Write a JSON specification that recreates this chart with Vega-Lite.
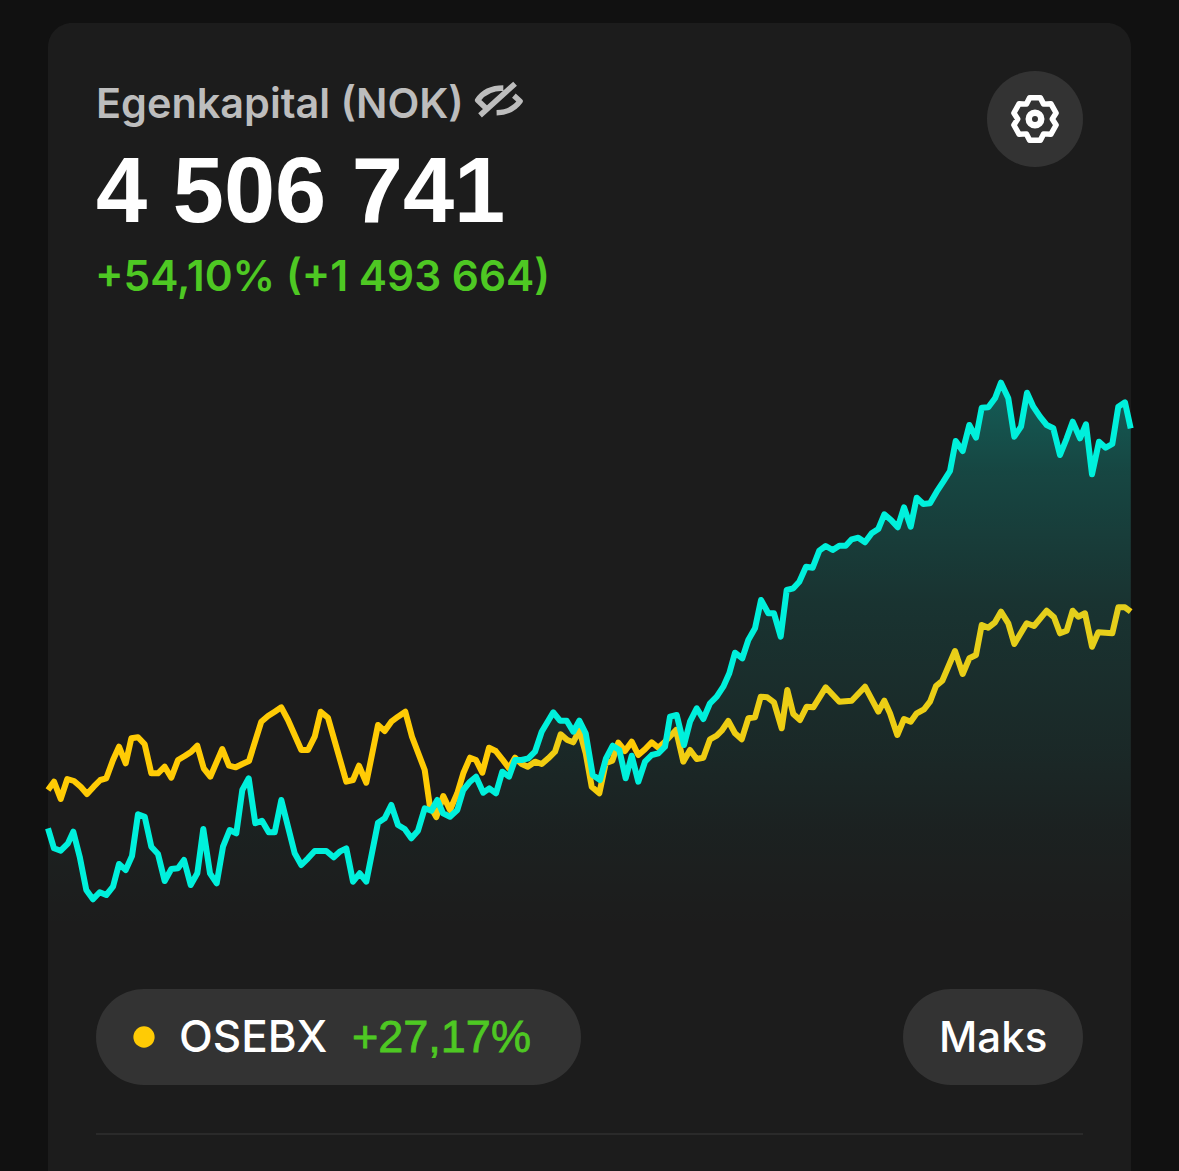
{
  "$schema": "https://vega.github.io/schema/vega-lite/v6.json",
  "description": "Egenkapital (NOK) against OSEBX, dark card layout",
  "background": "#111111",
  "width": 1179,
  "height": 1171,
  "padding": 0,
  "autosize": {"type": "fit", "contains": "padding"},
  "config": {"view": {"stroke": null}},
  "datasets": {
    "egenkapital": [
      {"x":48,"y":828.3},{"x":54,"y":848.3},{"x":60.7,"y":850.7},{"x":68,"y":843.3},{"x":73.3,"y":831.7},{"x":79.7,"y":856.7},{"x":86.3,"y":890},{"x":93,"y":899.3},{"x":99.7,"y":892.3},{"x":106.3,"y":895},{"x":113,"y":886.7},{"x":119,"y":864},{"x":125.7,"y":870},{"x":132,"y":856},{"x":138,"y":814.3},{"x":144.7,"y":816.7},{"x":151.3,"y":846.7},{"x":158,"y":854},{"x":164.7,"y":881},{"x":171.3,"y":869},{"x":178,"y":868.3},{"x":184,"y":860},{"x":190.7,"y":885},{"x":197.3,"y":873.3},{"x":203.3,"y":829},{"x":210,"y":873.3},{"x":216.7,"y":883.3},{"x":223,"y":846.7},{"x":229.7,"y":830},{"x":236.3,"y":833.3},{"x":242.3,"y":790},{"x":248.7,"y":778.3},{"x":255.3,"y":823.3},{"x":262,"y":820.7},{"x":268.7,"y":832.3},{"x":274.7,"y":832.3},{"x":281.3,"y":800},{"x":288,"y":826.7},{"x":294.7,"y":853.3},{"x":301.3,"y":865},{"x":308,"y":858.3},{"x":314.7,"y":851},{"x":326.3,"y":851},{"x":333.7,"y":857.3},{"x":339.7,"y":851.7},{"x":346.3,"y":848.3},{"x":353,"y":881.7},{"x":359.7,"y":873.3},{"x":366.3,"y":881.7},{"x":378,"y":822.7},{"x":384.7,"y":818.3},{"x":391.3,"y":805},{"x":398,"y":825},{"x":404.7,"y":829},{"x":411.3,"y":838.3},{"x":418,"y":830.7},{"x":424.7,"y":808.3},{"x":431.3,"y":810.7},{"x":437.3,"y":800},{"x":443,"y":813.3},
      {"x":450,"y":816.7},{"x":457.3,"y":810},{"x":463.3,"y":790},{"x":470,"y":781.7},{"x":476,"y":776.7},{"x":483.3,"y":792.7},{"x":489.3,"y":788.3},{"x":496,"y":793.3},{"x":502.3,"y":771.7},{"x":509,"y":776.7},{"x":515,"y":760},{"x":521.7,"y":760},{"x":528.3,"y":758.3},{"x":535,"y":751.7},{"x":541.7,"y":731.7},{"x":553.3,"y":712.3},{"x":560,"y":720.7},{"x":566.7,"y":720.7},{"x":573.3,"y":731.7},{"x":579.3,"y":720.7},{"x":585.7,"y":733.3},{"x":592.7,"y":775},{"x":600,"y":780},{"x":606,"y":758.3},{"x":612.7,"y":745.7},{"x":619.3,"y":750},{"x":625.7,"y":778.3},{"x":631.7,"y":755.7},{"x":638.3,"y":781.7},{"x":645,"y":761.7},{"x":651.7,"y":755},{"x":658.3,"y":753.3},{"x":665,"y":746.7},{"x":670,"y":716.7},{"x":676.7,"y":715},{"x":684,"y":745},{"x":690,"y":721.7},{"x":696.7,"y":708.3},{"x":703.3,"y":719},{"x":710,"y":703.3},{"x":716.7,"y":696.7},{"x":723.3,"y":686.7},{"x":729.3,"y":673.3},{"x":735,"y":652.7},{"x":742.3,"y":658.3},{"x":748.3,"y":640},{"x":755,"y":628.3},{"x":761,"y":600},{"x":768.3,"y":613.3},{"x":774,"y":613.3},{"x":780.7,"y":636.7},
      {"x":786.7,"y":590},{"x":793.3,"y":588.3},{"x":799.3,"y":581.7},{"x":806,"y":566.7},{"x":812.7,"y":567.7},{"x":819.3,"y":550.7},{"x":825.7,"y":546},{"x":832.7,"y":550},{"x":839.3,"y":545.7},{"x":845.7,"y":545.7},{"x":851.7,"y":539.3},{"x":858.3,"y":537.7},{"x":865,"y":542.3},{"x":871.7,"y":533.3},{"x":878.3,"y":529},{"x":884.3,"y":514.3},{"x":891,"y":520},{"x":897.7,"y":527.3},{"x":904,"y":507.3},{"x":910.7,"y":526.7},{"x":916.7,"y":497.7},{"x":923.3,"y":504},{"x":930,"y":503.3},{"x":936.7,"y":491.7},{"x":943.3,"y":481.7},{"x":950,"y":471},{"x":955.7,"y":441},{"x":962.7,"y":451},{"x":969.3,"y":425},{"x":976,"y":437.7},{"x":981.7,"y":407.7},{"x":988.3,"y":407.3},{"x":995,"y":398.3},{"x":1001,"y":382.7},{"x":1008.3,"y":398.3},{"x":1014.3,"y":436.7},{"x":1021,"y":426.7},{"x":1027,"y":392.7},{"x":1033.3,"y":406.7},{"x":1040,"y":416.7},{"x":1046.7,"y":425},{"x":1053.3,"y":428.3},{"x":1060,"y":455},{"x":1066.7,"y":438.3},{"x":1072.7,"y":421.7},{"x":1080,"y":438.3},{"x":1086,"y":424.3},{"x":1092,"y":474.3},{"x":1099,"y":441.7},{"x":1105.7,"y":447.7},{"x":1112.3,"y":444},{"x":1118.3,"y":406.7},{"x":1125,"y":402.3},{"x":1130.7,"y":428.3}
    ],
    "osebx": [
      {"x":48,"y":790},{"x":54,"y":781.7},{"x":60.7,"y":799},{"x":67.3,"y":779},{"x":74,"y":781},{"x":80.7,"y":786.7},{"x":87,"y":794},{"x":93.7,"y":786.7},{"x":100.3,"y":780},{"x":106.3,"y":778.3},{"x":113,"y":760},{"x":119,"y":746.7},{"x":125.7,"y":763.3},{"x":131.3,"y":738.3},{"x":138,"y":737.3},{"x":144.7,"y":744.3},{"x":151.3,"y":773.3},{"x":158,"y":773.3},{"x":164.7,"y":766.7},{"x":171.3,"y":777.7},{"x":178,"y":760},{"x":184.7,"y":756},{"x":191.3,"y":751.7},{"x":197.3,"y":745.7},{"x":203.7,"y":768.3},{"x":210.3,"y":776.7},{"x":222.3,"y":749},{"x":229,"y":765.7},{"x":235.7,"y":767.3},{"x":242.3,"y":764},{"x":249,"y":761},{"x":261.3,"y":721.7},{"x":268,"y":716},{"x":274.7,"y":711.7},{"x":281.3,"y":707.3},{"x":288,"y":720},{"x":301.3,"y":750},{"x":308,"y":750},{"x":314.7,"y":736.7},{"x":320.7,"y":711.7},{"x":328,"y":717.7},{"x":346.3,"y":781.7},{"x":353,"y":780},{"x":359,"y":765.7},{"x":366.3,"y":782.7},{"x":378,"y":725},{"x":384.7,"y":731},{"x":391.3,"y":721.7},{"x":398,"y":716.7},{"x":405.3,"y":711.7},{"x":412,"y":736.7},{"x":424.7,"y":770},{"x":429.7,"y":805},{"x":436.3,"y":817},{"x":443.3,"y":796},{"x":450,"y":810},
      {"x":457.3,"y":793.3},{"x":463.3,"y":773.3},{"x":470,"y":757.7},{"x":476,"y":760},{"x":482.3,"y":772.7},{"x":489,"y":747.7},{"x":495.7,"y":751},{"x":502.3,"y":759.3},{"x":509,"y":768.3},{"x":515,"y":757.7},{"x":521.7,"y":764},{"x":527.7,"y":766.7},{"x":535,"y":761.7},{"x":541.7,"y":764},{"x":548.3,"y":758.3},{"x":555,"y":751.7},{"x":560.7,"y":734.3},{"x":567.3,"y":740},{"x":573.3,"y":742.3},{"x":579.3,"y":730},{"x":585.7,"y":753.3},{"x":591.7,"y":786.7},{"x":599.3,"y":793.3},{"x":605.7,"y":763.3},{"x":612.3,"y":760.7},{"x":618.3,"y":742.7},{"x":625,"y":751},{"x":631.7,"y":741.7},{"x":638.3,"y":755},{"x":645,"y":749.3},{"x":651.7,"y":742.3},{"x":658.3,"y":747.7},{"x":665,"y":741.7},{"x":676,"y":730},{"x":683.3,"y":761.7},{"x":690,"y":750},{"x":696.7,"y":759},{"x":703.3,"y":757.7},{"x":710,"y":739.3},{"x":716.7,"y":735.7},{"x":721.7,"y":730.7},{"x":728.3,"y":721},{"x":735,"y":733.3},{"x":741.7,"y":739.3},{"x":748.3,"y":718.3},{"x":755,"y":717.3},{"x":760.7,"y":696.7},{"x":767.3,"y":697.3},{"x":774,"y":702.3},{"x":781.7,"y":728.3},
      {"x":787.3,"y":690},{"x":793.3,"y":714},{"x":800,"y":720},{"x":806.7,"y":706.7},{"x":813.3,"y":707.3},{"x":825.7,"y":687.3},{"x":839.3,"y":701.7},{"x":851.7,"y":700.7},{"x":865,"y":686.7},{"x":878.3,"y":711.7},{"x":884.3,"y":700.7},{"x":890,"y":713.3},{"x":897.3,"y":735},{"x":904,"y":719},{"x":910.7,"y":721.7},{"x":916.7,"y":713.3},{"x":924,"y":709.3},{"x":930,"y":701.7},{"x":936,"y":686},{"x":942.3,"y":680.7},{"x":955,"y":651},{"x":962.7,"y":674},{"x":969.3,"y":658.3},{"x":976,"y":655},{"x":981.7,"y":625},{"x":988.3,"y":627.7},{"x":995,"y":622.3},{"x":1001,"y":611.7},{"x":1008.3,"y":623.3},{"x":1014.3,"y":644},{"x":1026.7,"y":623.3},{"x":1034,"y":626},{"x":1046.7,"y":610.7},{"x":1054,"y":617.3},{"x":1060,"y":633.3},{"x":1066.7,"y":630.7},{"x":1072.7,"y":610.7},{"x":1078.3,"y":616.7},{"x":1085,"y":613.3},{"x":1092,"y":646.7},{"x":1098.3,"y":632.3},{"x":1112.3,"y":633.3},{"x":1118.3,"y":607.3},{"x":1125,"y":607.3},{"x":1130.7,"y":611.7}
    ]
  },
  "data": {"name": "egenkapital"},
  "encoding": {
    "x": {"field": "x", "type": "quantitative", "axis": null, "scale": {"domain": [0, 1179], "nice": false, "zero": false}},
    "y": {"field": "y", "type": "quantitative", "axis": null, "scale": {"domain": [1171, 0], "nice": false, "zero": false}}
  },
  "layer": [
    {
      "data": {"values": [{"x": 48, "x2": 1131, "y": 23, "y2": 1171}]},
      "mark": {"type": "rect", "color": "#1c1c1c", "cornerRadiusTopLeft": 24, "cornerRadiusTopRight": 24},
      "encoding": {"x2": {"field": "x2"}, "y2": {"field": "y2"}}
    },
    {
      "data": {"values": [
        {"x": 987, "x2": 1083, "y": 71, "y2": 167},
        {"x": 96, "x2": 581, "y": 989, "y2": 1085},
        {"x": 903, "x2": 1083, "y": 989, "y2": 1085}
      ]},
      "mark": {"type": "rect", "color": "#333333", "cornerRadius": 48},
      "encoding": {"x2": {"field": "x2"}, "y2": {"field": "y2"}}
    },
    {
      "data": {"values": [{"x": 96, "x2": 1083, "y": 1134}]},
      "mark": {"type": "rule", "color": "#2a2a2a", "strokeWidth": 2},
      "encoding": {"x2": {"field": "x2"}}
    },
    {
      "data": {"values": [{"x": 1035, "y": 119}]},
      "mark": {"type": "point", "filled": false, "stroke": "#ffffff", "strokeWidth": 5.5, "opacity": 1, "size": 2304, "strokeJoin": "round",
        "shape": "M-.22,-.89L.22,-.89L.36,-.62L.66,-.64L.88,-.25L.72,0L.88,.25L.66,.64L.36,.62L.22,.89L-.22,.89L-.36,.62L-.66,.64L-.88,.25L-.72,0L-.88,-.25L-.66,-.64L-.36,-.62Z"}
    },
    {
      "data": {"values": [{"x": 1035, "y": 119}]},
      "mark": {"type": "point", "filled": false, "stroke": "#ffffff", "strokeWidth": 6.5, "opacity": 1, "size": 2304,
        "shape": "M.26,0A.26,.26,0,1,1,-.26,0A.26,.26,0,1,1,.26,0Z"}
    },
    {
      "data": {"values": [{"x": 499, "y": 100}]},
      "mark": {"type": "point", "filled": false, "stroke": "#bdbdbd", "strokeWidth": 5.5, "opacity": 1, "size": 2304, "strokeJoin": "round",
        "shape": "M-.79,.64L.67,-.68M-.55,.33L-.89,.01C-.72,-.25,-.4,-.5,.18,-.5M.62,-.18L.88,.05C.7,.3,.45,.52,-.1,.53"}
    },
    {
      "data": {"values": [{"x": 96, "y": 118, "label": "Egenkapital (NOK)"}]},
      "mark": {"type": "text", "align": "left", "baseline": "alphabetic", "font": "Inter", "fontWeight": 600, "fontSize": 41.4, "color": "#bdbdbd"},
      "encoding": {"text": {"field": "label"}}
    },
    {
      "data": {"values": [{"x": 96, "y": 222, "label": "4 506 741"}]},
      "mark": {"type": "text", "align": "left", "baseline": "alphabetic", "font": "Liberation Sans", "fontWeight": 700, "fontSize": 92, "color": "#ffffff"},
      "encoding": {"text": {"field": "label"}}
    },
    {
      "data": {"values": [{"x": 95, "y": 291, "label": "+54,10% (+1 493 664)"}]},
      "mark": {"type": "text", "align": "left", "baseline": "alphabetic", "font": "Inter", "fontWeight": 600, "fontSize": 42.4, "color": "#4ec823"},
      "encoding": {"text": {"field": "label"}}
    },
    {
      "data": {"values": [{"x": 179, "y": 1052, "label": "OSEBX"}]},
      "mark": {"type": "text", "align": "left", "baseline": "alphabetic", "font": "Inter", "fontWeight": 500, "fontSize": 44, "color": "#ffffff"},
      "encoding": {"text": {"field": "label"}}
    },
    {
      "data": {"values": [{"x": 939, "y": 1052, "label": "Maks"}]},
      "mark": {"type": "text", "align": "left", "baseline": "alphabetic", "font": "Inter", "fontWeight": 500, "fontSize": 42, "color": "#ffffff"},
      "encoding": {"text": {"field": "label"}}
    },
    {
      "data": {"values": [{"x": 352, "y": 1052, "label": "+27,17%"}]},
      "mark": {"type": "text", "align": "left", "baseline": "alphabetic", "font": "Liberation Sans", "fontSize": 45, "color": "#4ec823", "stroke": "#4ec823", "strokeWidth": 0.8},
      "encoding": {"text": {"field": "label"}}
    },
    {
      "data": {"values": [{"x": 144, "y": 1037}]},
      "mark": {"type": "point", "shape": "circle", "filled": true, "color": "#ffcb05", "opacity": 1, "size": 452}
    },
    {
      "data": {"name": "osebx"},
      "mark": {"type": "line", "color": "#ffcb05", "strokeWidth": 6, "strokeJoin": "round"}
    },
    {
      "mark": {"type": "area", "color": {"gradient": "linear", "x1": 1, "x2": 1, "y1": 0, "y2": 1, "stops": [
        {"offset": 0, "color": "rgba(0,240,220,0.31)"},
        {"offset": 0.16, "color": "rgba(0,240,220,0.2)"},
        {"offset": 0.4, "color": "rgba(0,240,220,0.11)"},
        {"offset": 0.67, "color": "rgba(0,240,220,0.06)"},
        {"offset": 0.82, "color": "rgba(0,240,220,0.025)"},
        {"offset": 1, "color": "rgba(0,240,220,0)"}
      ]}},
      "encoding": {"y2": {"datum": 930}}
    },
    {
      "mark": {"type": "line", "color": "#00f0dc", "strokeWidth": 6, "strokeJoin": "round"}
    }
  ]
}
